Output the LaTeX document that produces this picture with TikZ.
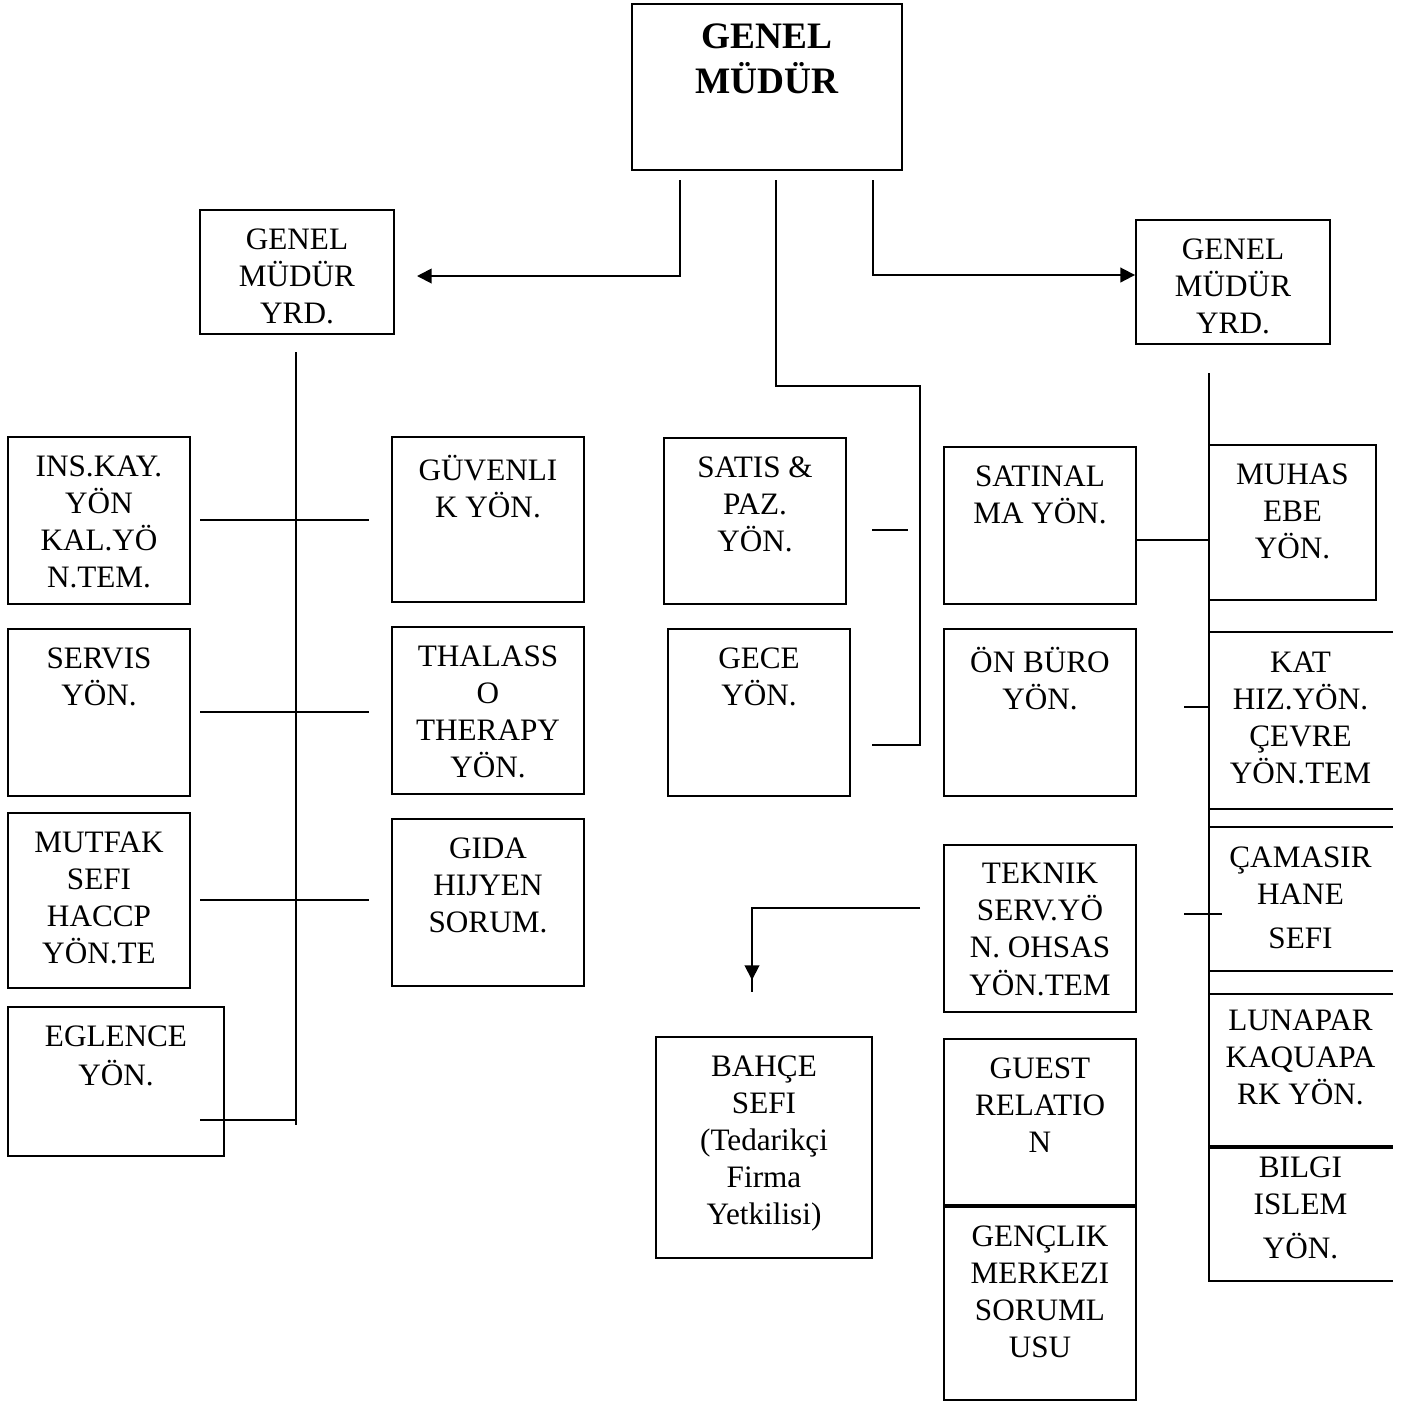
\documentclass[tikz,border=0pt]{standalone}
\usepackage{fontspec}
\setmainfont{Liberation Serif}
\usetikzlibrary{arrows.meta}
\usetikzlibrary{positioning,fit}
\tikzset{
    unit/.style={
        draw,
        inner sep=0pt,
        line width=0.7pt
    },
    open unit/.style={
        inner sep=0pt
    },
    caption/.style={
        anchor=north,
        align=center,
        inner sep=0pt,
        font=\fontsize{11.7}{13.9}\selectfont,
        execute at begin node={\rule{0pt}{10.5pt}}
    },
    link/.style={
        draw,
        line width=0.7pt
    },
    tip/.style={
        -{Triangle[length=5.5pt, width=5.5pt]}
    }
}

\begin{document}
\begin{tikzpicture}[x=0.375pt, y=-0.375pt, line width=0.7pt]
    \useasboundingbox (0,0) rectangle (1403,1402);

    % Top level
    \node[unit, fit={(632,4) (902,170)}] (gm) {};
    \node[caption, font=\fontsize{14}{16.9}\selectfont\bfseries, below=7.3pt of gm.north] (gmT) {GENEL\\MÜDÜR};

    % Deputies
    \node[unit, fit={(200,210) (394,334)}] (yrdL) {};
    \node[caption, below=6.9pt of yrdL.north] (yrdLT) {GENEL\\MÜDÜR\\YRD.};
    \node[unit, fit={(1136,220) (1330,344)}] (yrdR) {};
    \node[caption, below=6.9pt of yrdR.north] (yrdRT) {GENEL\\MÜDÜR\\YRD.};

    % Left branch, outer column
    \node[unit, fit={(8,437) (190,604)}] (insk) {};
    \node[caption, below=6.9pt of insk.north] (inskT) {INS.KAY.\\YÖN\\KAL.YÖ\\N.TEM.};
    \node[unit, fit={(8,629) (190,796)}] (servis) {};
    \node[caption, below=6.9pt of servis.north] (servisT) {SERVIS\\YÖN.};
    \node[unit, fit={(8,813) (190,988)}] (mutfak) {};
    \node[caption, below=6.9pt of mutfak.north] (mutfakT) {MUTFAK\\SEFI\\HACCP\\YÖN.TE};
    \node[unit, fit={(8,1007) (224,1156)}] (eglence) {};
    \node[caption, below=6.9pt of eglence.north] (eglenceT) {EGLENCE\\[1pt]YÖN.};

    % Left branch, inner column
    \node[unit, fit={(392,437) (584,602)}] (guvenlik) {};
    \node[caption, below=6.9pt of guvenlik.north] (guvenlikT) {GÜVENLI\\K YÖN.};
    \node[unit, fit={(392,627) (584,794)}] (thalasso) {};
    \node[caption, below=6.9pt of thalasso.north] (thalassoT) {THALASS\\O\\THERAPY\\YÖN.};
    \node[unit, fit={(392,819) (584,986)}] (gida) {};
    \node[caption, below=6.9pt of gida.north] (gidaT) {GIDA\\HIJYEN\\SORUM.};

    % Middle branch
    \node[unit, fit={(664,438) (846,604)}] (satis) {};
    \node[caption, below=6.9pt of satis.north] (satisT) {SATIS \&\\PAZ.\\YÖN.};
    \node[unit, fit={(668,629) (850,796)}] (gece) {};
    \node[caption, below=6.9pt of gece.north] (geceT) {GECE\\YÖN.};
    \node[unit, fit={(944,447) (1136,604)}] (satinal) {};
    \node[caption, below=6.9pt of satinal.north] (satinalT) {SATINAL\\MA YÖN.};
    \node[unit, fit={(944,629) (1136,796)}] (onburo) {};
    \node[caption, below=6.9pt of onburo.north] (onburoT) {ÖN BÜRO\\YÖN.};
    \node[unit, fit={(944,845) (1136,1012)}] (teknik) {};
    \node[caption, below=6.9pt of teknik.north] (teknikT) {TEKNIK\\SERV.YÖ\\N. OHSAS\\YÖN.TEM};
    \node[unit, fit={(944,1039) (1136,1205)}] (guest) {};
    \node[caption, below=6.9pt of guest.north] (guestT) {GUEST\\RELATIO\\N};
    \node[unit, fit={(944,1207) (1136,1400)}] (genclik) {};
    \node[caption, below=6.9pt of genclik.north] (genclikT) {GENÇLIK\\MERKEZI\\SORUML\\USU};
    \node[unit, fit={(656,1037) (872,1258)}] (bahce) {};
    \node[caption, below=6.9pt of bahce.north] (bahceT) {BAHÇE\\SEFI\\(Tedarikçi\\Firma\\Yetkilisi)};

    % Right branch
    \node[unit, fit={(1209,445) (1376,600)}] (muhas) {};
    \node[caption, below=6.9pt of muhas.north] (muhasT) {MUHAS\\EBE\\YÖN.};
    \node[open unit, fit={(1209,633) (1392,808)}] (kat) {};
    \node[caption, below=6.9pt of kat.north] (katT) {KAT\\HIZ.YÖN.\\ÇEVRE\\YÖN.TEM};
    \node[open unit, fit={(1209,828) (1392,970)}] (camasir) {};
    \node[caption, below=6.9pt of camasir.north] (camasirT) {ÇAMASIR\\HANE\\[1mm]SEFI};
    \node[open unit, fit={(1209,995) (1392,1147)}] (luna) {};
    \node[caption, below=5.4pt of luna.north] (lunaT) {LUNAPAR\\KAQUAPA\\RK YÖN.};
    \node[open unit, fit={(1209,1147) (1392,1280)}] (bilgi) {};
    \node[caption, below=3.5pt of bilgi.north] (bilgiT) {BILGI\\ISLEM\\[1mm]YÖN.};
    \foreach \u in {kat, camasir, luna, bilgi}
        \draw[link] (\u.north west) -- (\u.north east) (\u.south west) -- (\u.south east);

    % Links from the top
    \coordinate (gmA) at (680,180);
    \coordinate (gmB) at (776,180);
    \coordinate (gmC) at (873,180);
    \coordinate (yrdLin) at (417,276);
    \coordinate (yrdRin) at (yrdR.west |- 0,275);
    \draw[link, tip] (gmA) |- (yrdLin);
    \draw[link, tip] (gmC) |- (yrdRin);
    \coordinate (midTurn) at (920,386);
    \coordinate (geceIn) at (872,745);
    \draw[link] (gmB) |- (midTurn) |- (geceIn);
    \draw[link] (872,530) -- (908,530);

    % Left spine
    \coordinate (spLtop) at (296,352);
    \coordinate (spLbot) at (296,1125);
    \draw[link] (spLtop) -- (spLbot);
    \foreach \y in {520, 712, 900}
        \draw[link] (200,\y) -- (369,\y);
    \draw[link] (200,1120) -- (296,1120);

    % Right spine
    \coordinate (spRtop) at (1209,373);
    \coordinate (spRbot) at (1209,1282);
    \draw[link] (spRtop) -- (spRbot);
    \draw[link] (satinal.east |- 0,540) -- (1209,540);
    \draw[link] (1184,707) -- (1209,707);
    \draw[link] (1184,914) -- (1222,914);

    % Teknik to Bahce
    \coordinate (tekOut) at (920,908);
    \coordinate (bahceTip) at (752,980);
    \draw[link, tip] (tekOut) -| (bahceTip);
    \draw[link] (752,975) -- (752,992);
\end{tikzpicture}
\end{document}
